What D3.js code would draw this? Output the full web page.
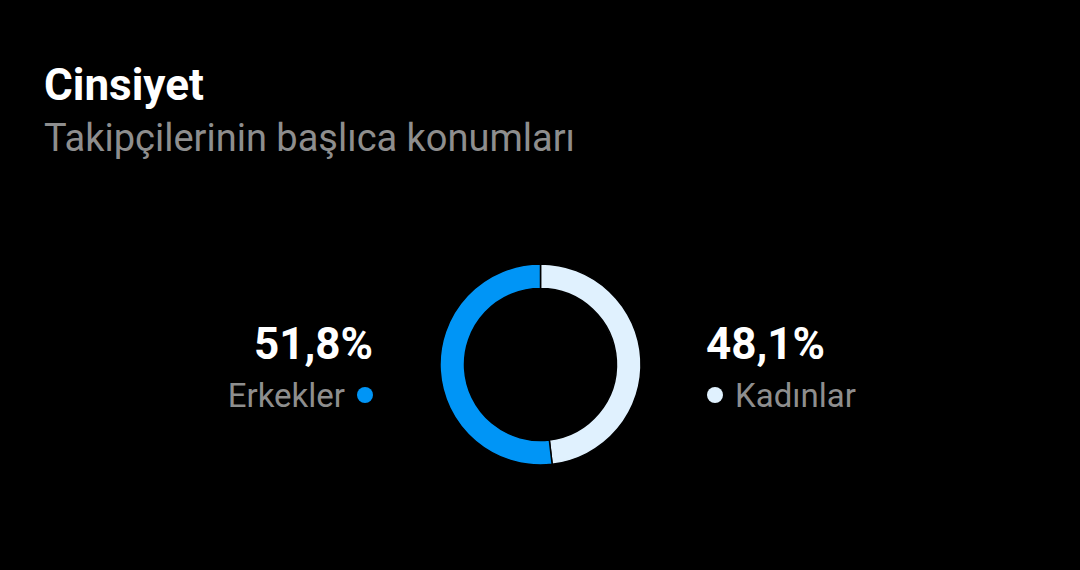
<!DOCTYPE html>
<html><head><meta charset="utf-8">
<script src="https://cdn.jsdelivr.net/npm/d3@7/dist/d3.min.js"></script>
<style>html,body{margin:0;padding:0;background:#000;}svg{display:block;}</style>
</head><body>
<script>
const categories = ["Kadınlar", "Erkekler"];
const values = [48.1, 51.8];
const labels = ["48,1%", "51,8%"];
const colors = ["#e0f1fe", "#0095f6"];

const W = 1080, H = 570;
const svg = d3.select("body").append("svg").attr("width", W).attr("height", H);
svg.append("rect").attr("width", W).attr("height", H).attr("fill", "#000");

const font = "Roboto, 'Noto Sans', sans-serif";
svg.append("text").attr("x", 44).attr("y", 100).text("Cinsiyet")
  .attr("fill", "#fff").attr("font-family", font).attr("font-weight", 700).attr("font-size", 44);
svg.append("text").attr("x", 44).attr("y", 151).text("Takipçilerinin başlıca konumları")
  .attr("fill", "#8e8e8e").attr("font-family", font).attr("font-size", 38);

const cx = 540.5, cy = 364.5;
const pie = d3.pie().sort(null).value(d => d)(values);
const arc = d3.arc().innerRadius(76).outerRadius(100.5);
const g = svg.append("g").attr("transform", `translate(${cx},${cy})`);
g.selectAll("path").data(pie).join("path")
  .attr("d", arc).attr("fill", (d, i) => colors[i])
  .attr("stroke", "#000").attr("stroke-width", 1.5);

// Right legend (Kadınlar)
svg.append("text").attr("x", 706).attr("y", 359).text(labels[0])
  .attr("fill", "#fff").attr("font-family", font).attr("font-weight", 700).attr("font-size", 44);
svg.append("circle").attr("cx", 715).attr("cy", 395).attr("r", 8).attr("fill", colors[0]);
svg.append("text").attr("x", 735).attr("y", 407).text(categories[0])
  .attr("fill", "#8e8e8e").attr("font-family", font).attr("font-size", 33);

// Left legend (Erkekler)
svg.append("text").attr("x", 373).attr("y", 359).attr("text-anchor", "end").text(labels[1])
  .attr("fill", "#fff").attr("font-family", font).attr("font-weight", 700).attr("font-size", 44);
svg.append("circle").attr("cx", 365).attr("cy", 395).attr("r", 8).attr("fill", colors[1]);
svg.append("text").attr("x", 345).attr("y", 407).attr("text-anchor", "end").text(categories[1])
  .attr("fill", "#8e8e8e").attr("font-family", font).attr("font-size", 33);
</script>
</body></html>
